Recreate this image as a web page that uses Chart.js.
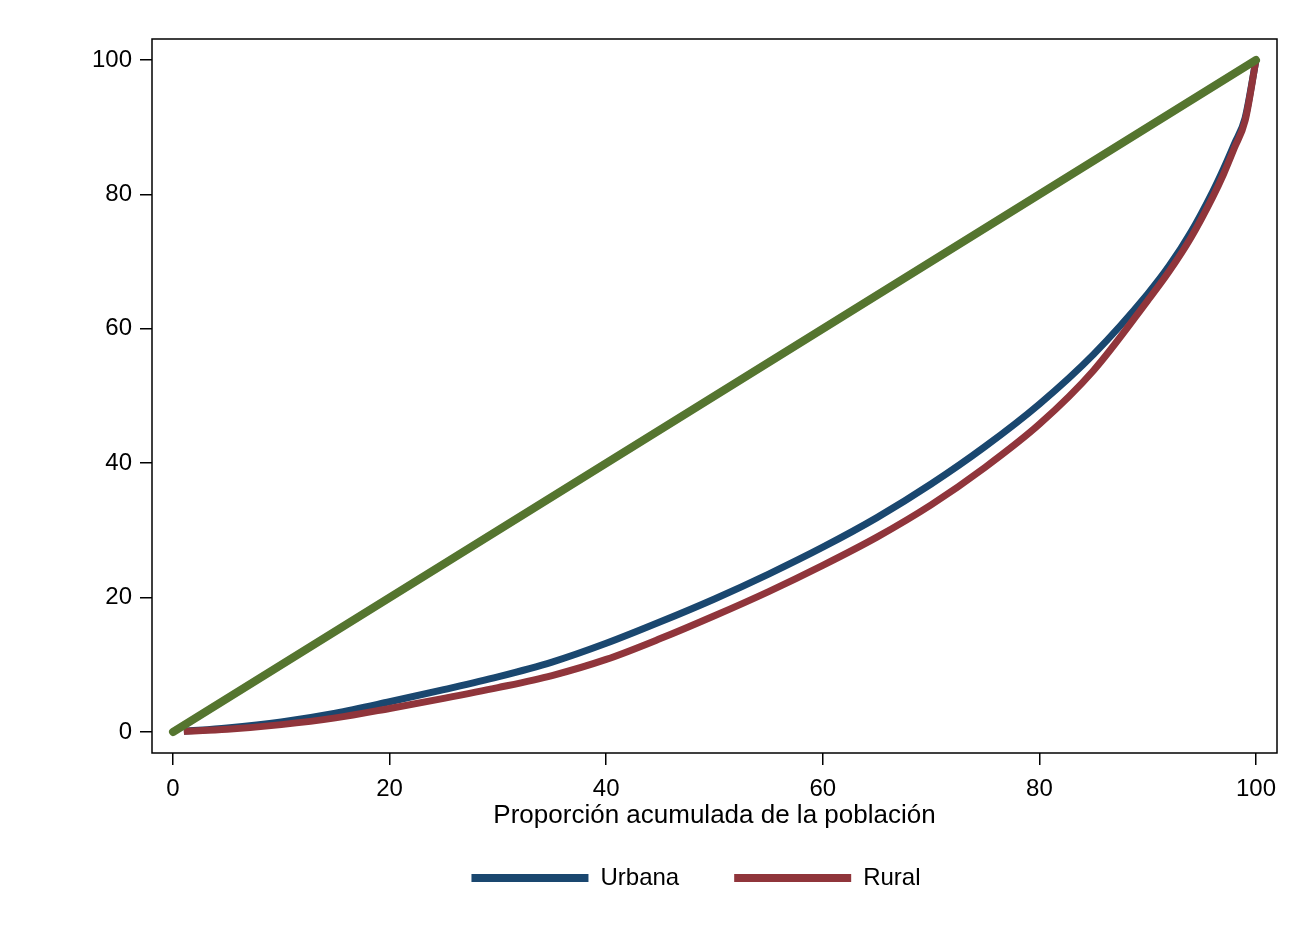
<!DOCTYPE html>
<html>
<head>
<meta charset="utf-8">
<script src="https://cdn.jsdelivr.net/npm/chart.js@4"></script>
<style>
  html, body { margin: 0; padding: 0; background: #fff; }
  #wrap { width: 1303px; height: 948px; }
</style>
</head>
<body>
<div id="wrap"><canvas id="lorenzChart" width="1303" height="948"></canvas></div>
<script>
// --- datos: curvas de Lorenz (porcentaje acumulado) ---
const poblacion = [1, 5, 10, 15, 20, 25, 30, 35, 40, 45, 50, 55, 60, 65, 70, 75, 80, 85, 90, 92, 94, 96, 97, 98, 99, 100];
const urbana = [0.1, 0.6, 1.5, 2.8, 4.5, 6.3, 8.2, 10.4, 13.2, 16.4, 19.8, 23.5, 27.5, 31.9, 36.9, 42.5, 48.8, 56.2, 65.2, 69.4, 74.4, 80.4, 83.8, 87.5, 91.4, 100];
const rural = [0.1, 0.4, 1.1, 2.1, 3.5, 5.0, 6.6, 8.4, 10.8, 13.9, 17.3, 20.9, 24.8, 29.0, 33.8, 39.4, 45.8, 53.8, 64.2, 68.6, 73.6, 79.6, 83.0, 86.9, 91.0, 100];
const igualdadX = [0, 100];
const igualdadY = [0, 100];
const ticksX = [0, 20, 40, 60, 80, 100];
const ticksY = [0, 20, 40, 60, 80, 100];

const FONT = 'Liberation Sans, Arial, Helvetica, sans-serif';

function toPoints(xs, ys) {
    return xs.map((x, i) => ({ x: x, y: ys[i] }));
}

// marco completo del area de graficado + leyenda centrada bajo el grafico
const plotFrame = {
    id: 'plotFrame',
    afterLayout(chart) {
        const lg = chart.legend;
        const shift = 696 - (lg.left + lg.right) / 2;
        lg.left += shift;
        lg.right += shift;
    },
    afterDraw(chart) {
        const a = chart.chartArea;
        const ctx = chart.ctx;
        ctx.save();
        ctx.strokeStyle = '#000';
        ctx.lineWidth = 1.5;
        ctx.strokeRect(a.left, a.top, a.right - a.left, a.bottom - a.top);
        ctx.restore();
    }
};

const ctx = document.getElementById('lorenzChart').getContext('2d');
new Chart(ctx, {
    type: 'scatter',
    data: {
        datasets: [
            {
                label: 'Igualdad',
                data: toPoints(igualdadX, igualdadY),
                showLine: true,
                borderColor: '#55752f',
                backgroundColor: '#55752f',
                borderWidth: 8,
                borderCapStyle: 'round',
                pointRadius: 0
            },
            {
                label: 'Rural',
                data: toPoints(poblacion, rural),
                showLine: true,
                borderColor: '#90353b',
                backgroundColor: '#90353b',
                borderWidth: 7,
                borderJoinStyle: 'round',
                cubicInterpolationMode: 'monotone',
                pointRadius: 0
            },
            {
                label: 'Urbana',
                data: toPoints(poblacion, urbana),
                showLine: true,
                borderColor: '#1a476f',
                backgroundColor: '#1a476f',
                borderWidth: 7,
                borderJoinStyle: 'round',
                cubicInterpolationMode: 'monotone',
                pointRadius: 0
            }
        ]
    },
    options: {
        responsive: false,
        animation: false,
        layout: { padding: { top: 39, right: 26, bottom: 48, left: 20 } },
        scales: {
            x: {
                type: 'linear',
                min: -1.94,
                max: 101.94,
                afterBuildTicks: s => { s.ticks = ticksX.map(v => ({ value: v })); },
                afterFit: s => { s.height = 58; },
                grid: { drawOnChartArea: false, drawTicks: true, tickLength: 12, color: '#000', lineWidth: 1.5 },
                border: { display: false },
                ticks: { color: '#000', padding: 10, maxRotation: 0, font: { family: FONT, size: 24 } },
                title: {
                    display: true,
                    text: 'Proporción acumulada de la población',
                    color: '#000',
                    font: { family: FONT, size: 26 },
                    padding: { top: 0, bottom: -20.6 }
                }
            },
            y: {
                min: -3.125,
                max: 103.125,
                afterBuildTicks: s => { s.ticks = ticksY.map(v => ({ value: v })); },
                afterFit: s => { s.width = 132; },
                grid: { drawOnChartArea: false, drawTicks: true, tickLength: 12, color: '#000', lineWidth: 1.5 },
                border: { display: false },
                ticks: { color: '#000', padding: 8, font: { family: FONT, size: 24 } }
            }
        },
        plugins: {
            tooltip: { enabled: false },
            legend: {
                position: 'bottom',
                align: 'center',
                labels: {
                    boxWidth: 117,
                    boxHeight: 8,
                    padding: 55,
                    color: '#000',
                    font: { family: FONT, size: 24 },
                    generateLabels: chart => Chart.defaults.plugins.legend.labels.generateLabels(chart)
                        .map(it => Object.assign(it, { lineWidth: 0, fillStyle: it.strokeStyle })),
                    filter: it => it.text !== 'Igualdad',
                    sort: (a, b) => b.datasetIndex - a.datasetIndex
                }
            }
        }
    },
    plugins: [plotFrame]
});
</script>
</body>
</html>
